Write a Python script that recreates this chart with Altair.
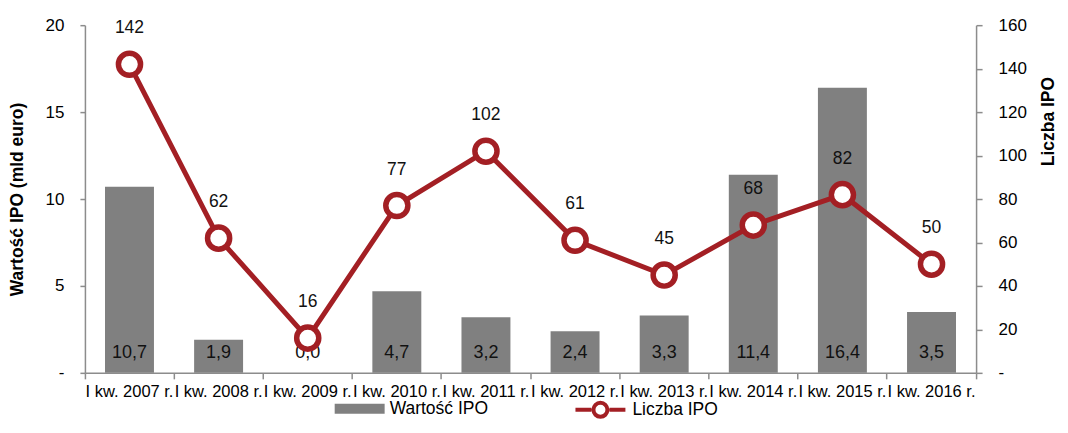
import altair as alt
import pandas as pd

cats = ["I kw. 2007 r.", "I kw. 2008 r.", "I kw. 2009 r.", "I kw. 2010 r.", "I kw. 2011 r.",
        "I kw. 2012 r.", "I kw. 2013 r.", "I kw. 2014 r.", "I kw. 2015 r.", "I kw. 2016 r."]
wartosc = [10.7, 1.9, 0.0, 4.7, 3.2, 2.4, 3.3, 11.4, 16.4, 3.5]
liczba = [142, 62, 16, 77, 102, 61, 45, 68, 82, 50]
left_ticks = [0, 5, 10, 15, 20]
right_ticks = [0, 20, 40, 60, 80, 100, 120, 140, 160]

df = pd.DataFrame({"kw": cats, "wartosc": wartosc, "liczba": liczba})

GRAY = "#808080"
RED = "#A31F24"
AXIS_GRAY = "#8c8c8c"
FONT = "Liberation Sans"

x = alt.X(
    "kw:N", sort=cats,
    scale=alt.Scale(paddingInner=0, paddingOuter=0),
    axis=alt.Axis(title=None, labelAngle=0, labelFontSize=16.5, labelColor="black",
                  domainColor=AXIS_GRAY, domainWidth=1.5, tickColor=AXIS_GRAY,
                  tickWidth=1.5, tickSize=6, bandPosition=1, tickExtra=True,
                  labelPadding=5, labelFont=FONT),
)

left_axis = alt.Axis(
    title="Wartość IPO (mld euro)", values=left_ticks,
    labelExpr="datum.value == 0 ? '-' : datum.label",
    grid=False, tickSize=5, tickColor=AXIS_GRAY, tickWidth=1.5,
    domainColor=AXIS_GRAY, domainWidth=1.5,
    labelPadding=16, labelFontSize=17, labelColor="black",
    titleFontSize=17.5, titleFontWeight="bold", titleColor="black", titlePadding=19,
)
right_axis = alt.Axis(
    title="Liczba IPO", orient="right", values=right_ticks,
    labelExpr="datum.value == 0 ? '-' : datum.label",
    grid=False, tickSize=6, tickColor=AXIS_GRAY, tickWidth=1.5,
    domainColor=AXIS_GRAY, domainWidth=1.5,
    labelPadding=16, labelFontSize=17, labelColor="black",
    titleFontSize=17.5, titleFontWeight="bold", titleColor="black",
    titleAngle=270, titleX=72, titleY=96, titleAlign="center", titleBaseline="middle",
)

y_left_scale = alt.Scale(domain=[0, 20])
y_right_scale = alt.Scale(domain=[0, 160])

bars = alt.Chart().transform_calculate(series="'Wartość IPO'").mark_bar(size=49).encode(
    x=x,
    y=alt.Y("wartosc:Q", scale=y_left_scale, axis=left_axis),
    color=alt.Color("series:N", scale=alt.Scale(domain=["Wartość IPO"], range=[GRAY]),
                    legend=alt.Legend(orient="none", legendX=250, legendY=359, title=None,
                                      padding=0, symbolType="M-1,-0.2H1V0.2H-1Z",
                                      symbolSize=2500, symbolStrokeWidth=0,
                                      symbolOpacity=1, labelOffset=5,
                                      labelFontSize=17.5, labelColor="black", labelFont=FONT)),
)

bar_text = alt.Chart().transform_calculate(
    zero="0", lab="replace(format(datum.wartosc, '.1f'), '.', ',')"
).mark_text(baseline="middle", dy=-20, fontSize=18, color="#111111", font=FONT).encode(
    x=x,
    y=alt.Y("zero:Q", scale=y_left_scale, axis=left_axis),
    text="lab:N",
)

line = alt.Chart().transform_calculate(series2="'Liczba IPO'").mark_line(strokeWidth=5).encode(
    x=x,
    y=alt.Y("liczba:Q", scale=y_right_scale, axis=right_axis),
    stroke=alt.Stroke("series2:N", scale=alt.Scale(domain=["Liczba IPO"], range=[RED]),
                      legend=alt.Legend(orient="none", legendX=489, legendY=358, title=None,
                                        padding=0,
                                        symbolType="M-1,0H-0.36M0.36,0H1M-0.28,0A0.28,0.28,0,1,1,0.28,0A0.28,0.28,0,1,1,-0.28,0",
                                        symbolSize=2500, symbolStrokeWidth=4,
                                        symbolFillColor="white", labelOffset=5,
                                        labelFontSize=17.5, labelColor="black", labelFont=FONT)),
)

points = alt.Chart().mark_point(filled=True, fill="white", stroke=RED, strokeWidth=5.5,
                                size=490, opacity=1).encode(
    x=x,
    y=alt.Y("liczba:Q", scale=y_right_scale, axis=right_axis),
)

line_text = alt.Chart().mark_text(baseline="middle", dy=-36, fontSize=17.5,
                                  color="#111111", font=FONT).encode(
    x=x,
    y=alt.Y("liczba:Q", scale=y_right_scale, axis=right_axis),
    text="liczba:Q",
)

left = alt.layer(bars, bar_text)
right = alt.layer(line, points, line_text)

chart = alt.layer(left, right, data=df).resolve_scale(
    y="independent", color="independent", stroke="independent"
).properties(
    width=892, height=348,
    autosize=alt.AutoSizeParams(type="none"),
    padding={"left": 77, "top": 17, "right": 84, "bottom": 47},
).configure(font=FONT).configure_view(stroke=None)

chart.save("out.html", embed_options={"renderer": "svg", "actions": False})
